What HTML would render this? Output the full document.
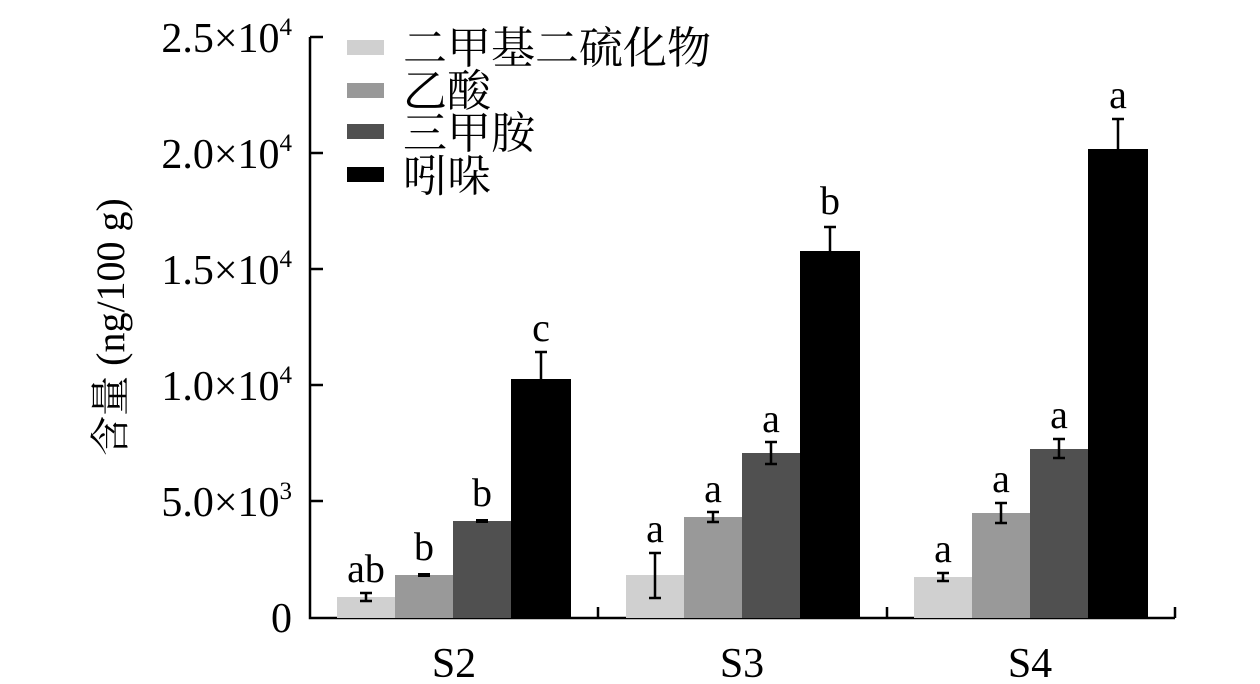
<!DOCTYPE html>
<html><head><meta charset="utf-8"><style>body{margin:0;background:#fff}svg{display:block}</style></head><body>
<svg width="1260" height="684" xmlns="http://www.w3.org/2000/svg" font-family="'Liberation Serif','Noto Serif CJK SC',serif">
<g stroke="#000" stroke-width="2.5" fill="none">
<path d="M310 37 V618 H1175"/>
<path d="M310 37 H323 M310 153 H323 M310 269 H323 M310 385 H323 M310 501 H323"/>
<path d="M598 618 V607 M887 618 V607 M1175 618 V607"/>
</g>
<g font-size="42" text-anchor="end" fill="#000">
<text x="292" y="632">0</text>
<text x="292" y="516">5.0×10<tspan font-size="25" dy="-17">3</tspan></text>
<text x="292" y="400">1.0×10<tspan font-size="25" dy="-17">4</tspan></text>
<text x="292" y="284">1.5×10<tspan font-size="25" dy="-17">4</tspan></text>
<text x="292" y="168">2.0×10<tspan font-size="25" dy="-17">4</tspan></text>
<text x="292" y="52">2.5×10<tspan font-size="25" dy="-17">4</tspan></text>
</g>
<g font-size="42" text-anchor="middle">
<text x="454" y="677">S2</text><text x="742" y="677">S3</text><text x="1030" y="677">S4</text>
</g>
<text transform="translate(124,327) rotate(-90)" font-size="40" text-anchor="middle">含量 (ng/100 g)</text>
<g>
<rect x="337" y="597" width="58" height="21" fill="#d0d0d0"/>
<rect x="395" y="575" width="58" height="43" fill="#999"/>
<rect x="453" y="521" width="58" height="97" fill="#505050"/>
<rect x="511" y="379" width="60" height="239" fill="#000"/>
<rect x="626" y="575" width="58" height="43" fill="#d0d0d0"/>
<rect x="684" y="517" width="58" height="101" fill="#999"/>
<rect x="742" y="453" width="58" height="165" fill="#505050"/>
<rect x="800" y="251" width="60" height="367" fill="#000"/>
<rect x="914" y="577" width="58" height="41" fill="#d0d0d0"/>
<rect x="972" y="513" width="58" height="105" fill="#999"/>
<rect x="1030" y="449" width="58" height="169" fill="#505050"/>
<rect x="1088" y="149" width="60" height="469" fill="#000"/>
</g>
<g stroke="#000" stroke-width="2.5" fill="none">
<path d="M366 593 V601 M360 593 H372 M360 601 H372"/>
<path d="M418 575 H430" stroke-width="4"/>
<path d="M476 521 H488" stroke-width="4"/>
<path d="M541 379 V352 M535 352 H547"/>
<path d="M655 553 V598 M649 553 H661 M649 598 H661"/>
<path d="M713 512 V522 M707 512 H719 M707 522 H719"/>
<path d="M771 442 V464 M765 442 H777 M765 464 H777"/>
<path d="M830 251 V227 M824 227 H836"/>
<path d="M943 573 V581 M937 573 H949 M937 581 H949"/>
<path d="M1001 503 V523 M995 503 H1007 M995 523 H1007"/>
<path d="M1059 439 V458 M1053 439 H1065 M1053 458 H1065"/>
<path d="M1118 149 V119 M1112 119 H1124"/>
</g>
<g font-size="40" text-anchor="middle">
<text x="366" y="582">ab</text><text x="424" y="560">b</text><text x="482" y="506">b</text><text x="541" y="341">c</text>
<text x="655" y="542">a</text><text x="713" y="502">a</text><text x="771" y="432">a</text><text x="830" y="214">b</text>
<text x="943" y="562">a</text><text x="1001" y="492">a</text><text x="1059" y="428">a</text><text x="1118" y="108">a</text>
</g>
<rect x="347" y="40" width="37" height="15" fill="#d0d0d0"/>
<rect x="347" y="83" width="37" height="15" fill="#999"/>
<rect x="347" y="124" width="37" height="15" fill="#505050"/>
<rect x="347" y="167" width="37" height="15" fill="#000"/>
<g font-size="44">
<text x="403" y="63">二甲基二硫化物</text>
<text x="403" y="106">乙酸</text>
<text x="403" y="148">三甲胺</text>
<text x="403" y="191">吲哚</text>
</g>
</svg>
</body></html>
